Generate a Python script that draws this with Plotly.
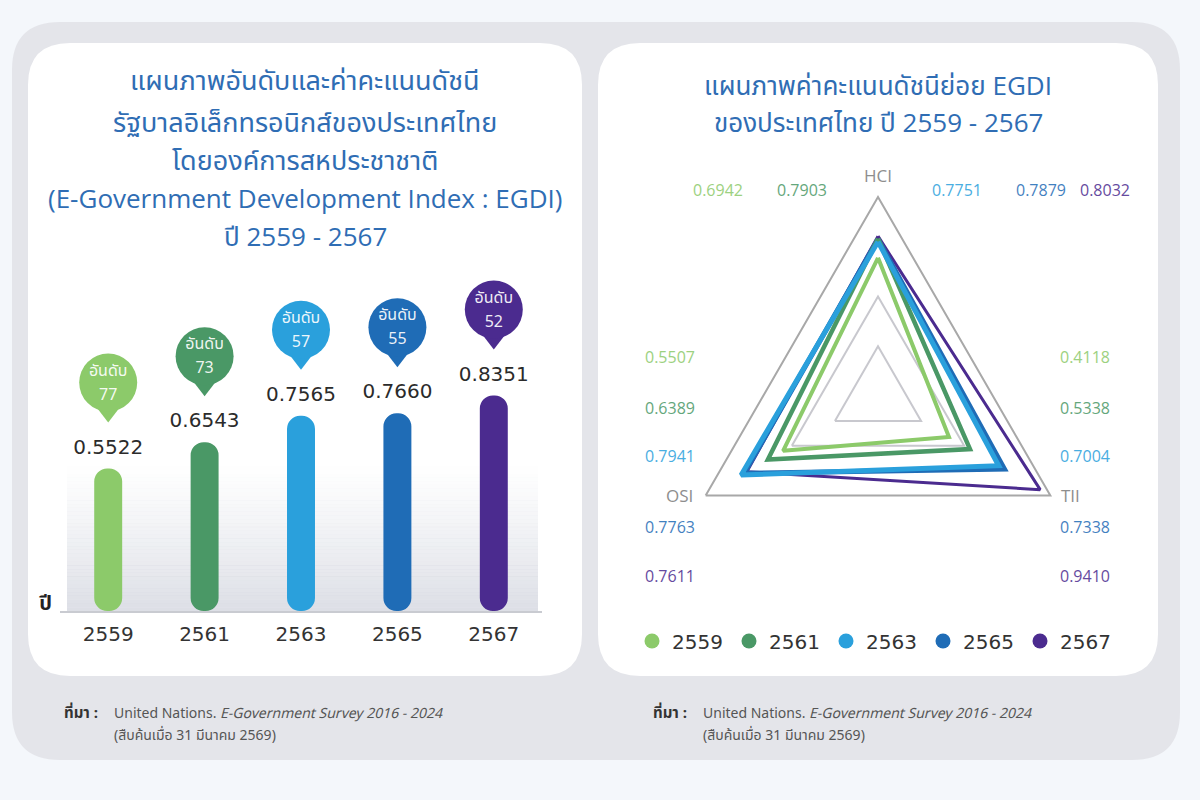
import math
import plotly.graph_objects as go

# ---------------- data ----------------
years = ["2559", "2561", "2563", "2565", "2567"]
egdi = [0.5522, 0.6543, 0.7565, 0.7660, 0.8351]
ranks = [77, 73, 57, 55, 52]

axes_names = ["HCI", "TII", "OSI"]
hci = [0.6942, 0.7903, 0.7751, 0.7879, 0.8032]
osi = [0.5507, 0.6389, 0.7941, 0.7763, 0.7611]
tii = [0.4118, 0.5338, 0.7004, 0.7338, 0.9410]

colors = ["#8cca6a", "#4a9866", "#2aa0dc", "#1f6cb6", "#4b2b8f"]

W, H = 1200, 800
THAI = "Noto Sans Thai, Loma, Garuda, Tahoma, Noto Sans, sans-serif"
LAT = "Open Sans, Noto Sans Thai, Loma, Garuda, sans-serif"


def px(x):
    return x / W


def py(y):
    return 1 - y / H


def rounded(x0, y0, x1, y1, r):
    pts = [
        f"M{px(x0 + r)},{py(y0)}",
        f"L{px(x1 - r)},{py(y0)}",
        f"Q{px(x1)},{py(y0)} {px(x1)},{py(y0 + r)}",
        f"L{px(x1)},{py(y1 - r)}",
        f"Q{px(x1)},{py(y1)} {px(x1 - r)},{py(y1)}",
        f"L{px(x0 + r)},{py(y1)}",
        f"Q{px(x0)},{py(y1)} {px(x0)},{py(y1 - r)}",
        f"L{px(x0)},{py(y0 + r)}",
        f"Q{px(x0)},{py(y0)} {px(x0 + r)},{py(y0)}",
        "Z",
    ]
    return " ".join(pts)


fig = go.Figure()

# ---------------- bar chart (left) ----------------
Y0_PX = 611
PPU = 258.0  # pixels per data unit on y
YMAX = 1.35
X0_PX, X1_PX = 60, 542
idx = list(range(len(years)))
bw = 0.29

# pill-shaped bars (a non-zero base makes plotly round both ends)
fig.add_trace(go.Bar(x=idx, y=[v - 0.0001 for v in egdi], base=[0.0001] * len(egdi), width=bw,
                     marker=dict(color=colors, cornerradius="50%", line=dict(width=0)),
                     showlegend=False, hoverinfo="skip", xaxis="x", yaxis="y"))

# value labels
fig.add_trace(go.Scatter(x=idx, y=[v + 20 / PPU for v in egdi], mode="text",
                         text=[f"{v:.4f}" for v in egdi],
                         textfont=dict(size=20, color="#2b2b2b", family="DejaVu Sans"),
                         showlegend=False, hoverinfo="skip", xaxis="x", yaxis="y"))

# rank pins
PIN_C = 86  # px above bar top
fig.add_trace(go.Scatter(x=idx, y=[v + 67 / PPU for v in egdi], mode="markers",
                         marker=dict(symbol="triangle-down", size=42, color=colors, line=dict(width=0)),
                         showlegend=False, hoverinfo="skip", xaxis="x", yaxis="y"))
fig.add_trace(go.Scatter(x=idx, y=[v + PIN_C / PPU for v in egdi], mode="markers",
                         marker=dict(symbol="circle", size=58, color=colors, line=dict(width=0)),
                         showlegend=False, hoverinfo="skip", xaxis="x", yaxis="y"))
fig.add_trace(go.Scatter(x=idx, y=[v + (PIN_C + 11) / PPU for v in egdi], mode="text",
                         text=["อันดับ"] * len(ranks), textposition="middle center",
                         textfont=dict(size=16, color="rgba(255,255,255,0.92)", family=THAI),
                         showlegend=False, hoverinfo="skip", xaxis="x", yaxis="y"))
fig.add_trace(go.Scatter(x=idx, y=[v + (PIN_C - 13) / PPU for v in egdi], mode="text",
                         text=[str(r) for r in ranks], textposition="middle center",
                         textfont=dict(size=16, color="rgba(255,255,255,0.92)", family=THAI),
                         showlegend=False, hoverinfo="skip", xaxis="x", yaxis="y"))

# ---------------- radar (right) ----------------
order = [4, 3, 0, 1, 2]
widths = [4, 4.5, 5, 5, 3]
for i in order:
    r = [hci[i], tii[i], osi[i], hci[i]]
    fig.add_trace(go.Scatterpolar(r=r, theta=axes_names + [axes_names[0]], mode="lines",
                                  line=dict(color=colors[i], width=widths[i]),
                                  showlegend=False, hoverinfo="skip"))

# legend dummies
for i, yname in enumerate(years):
    fig.add_trace(go.Scatter(x=[None], y=[None], mode="markers", name=yname,
                             marker=dict(size=15, color=colors[i]), xaxis="x", yaxis="y"))

cx, cy, R = 878, 396, 199

annotations = []
# left titles
left_title = ["แผนภาพอันดับและค่าคะแนนดัชนี", "รัฐบาลอิเล็กทรอนิกส์ของประเทศไทย",
              "โดยองค์การสหประชาชาติ", "(E-Government Development Index : EGDI)", "ปี 2559 - 2567"]
left_ty = [80, 121, 160, 198, 236]
left_fs = [27, 27, 27, 26, 26]
for t, yy, fs in zip(left_title, left_ty, left_fs):
    annotations.append(dict(text=t, x=px(305), y=py(yy), xref="paper", yref="paper",
                            xanchor="center", yanchor="middle", showarrow=False,
                            font=dict(size=fs, color="#2f6db4", family=LAT)))
right_title = ["แผนภาพค่าคะแนนดัชนีย่อย EGDI", "ของประเทศไทย ปี 2559 - 2567"]
right_ty = [85, 122]
for t, yy in zip(right_title, right_ty):
    annotations.append(dict(text=t, x=px(878), y=py(yy), xref="paper", yref="paper",
                            xanchor="center", yanchor="middle", showarrow=False,
                            font=dict(size=26, color="#2f6db4", family=LAT)))

# radar axis names
ax_ang = [90, -30, 210]
ax_off = [(0, -21), (20, 0), (-26, 0)]
for name, ang, (dx, dy) in zip(axes_names, ax_ang, ax_off):
    vx = cx + R * math.cos(math.radians(ang))
    vy = cy - R * math.sin(math.radians(ang))
    annotations.append(dict(text=name, x=px(vx + dx), y=py(vy + dy), xref="paper", yref="paper",
                            showarrow=False, xanchor="center", yanchor="middle",
                            font=dict(size=17, color="#8e8e8e", family="Open Sans")))

# radar value labels
top_x = [718, 802, 957, 1041, 1105]
side_y = [357, 408, 456, 527, 576]
for i in range(len(years)):
    annotations.append(dict(text=f"{hci[i]:.4f}", x=px(top_x[i]), y=py(190), xref="paper", yref="paper",
                            showarrow=False, xanchor="center", yanchor="middle", opacity=0.85,
                            font=dict(size=16, color=colors[i], family="Open Sans")))
    annotations.append(dict(text=f"{osi[i]:.4f}", x=px(670), y=py(side_y[i]), xref="paper", yref="paper",
                            showarrow=False, xanchor="center", yanchor="middle", opacity=0.85,
                            font=dict(size=16, color=colors[i], family="Open Sans")))
    annotations.append(dict(text=f"{tii[i]:.4f}", x=px(1085), y=py(side_y[i]), xref="paper", yref="paper",
                            showarrow=False, xanchor="center", yanchor="middle", opacity=0.85,
                            font=dict(size=16, color=colors[i], family="Open Sans")))

# year axis label
annotations.append(dict(text="<b>ปี</b>", x=px(45), y=py(604), xref="paper", yref="paper",
                        showarrow=False, xanchor="center", yanchor="middle",
                        font=dict(size=20, color="#222", family=THAI)))

# footnotes
for x0 in (62, 651):
    annotations.append(dict(text="<b>ที่มา :</b>", x=px(x0), y=py(713), xref="paper", yref="paper",
                            showarrow=False, xanchor="left", yanchor="middle",
                            font=dict(size=15, color="#333", family=THAI)))
    annotations.append(dict(text="United Nations. <i>E-Government Survey 2016 - 2024</i>",
                            x=px(x0 + 50), y=py(713), xref="paper", yref="paper",
                            showarrow=False, xanchor="left", yanchor="middle",
                            font=dict(size=14, color="#555", family=THAI)))
    annotations.append(dict(text="(สืบค้นเมื่อ 31 มีนาคม 2569)",
                            x=px(x0 + 50), y=py(735), xref="paper", yref="paper",
                            showarrow=False, xanchor="left", yanchor="middle",
                            font=dict(size=14, color="#555", family=THAI)))

shapes = [
    dict(type="path", path=rounded(12, 22, 1180, 760, 48), xref="paper", yref="paper",
         fillcolor="#e4e5ea", line=dict(width=0), layer="below"),
    dict(type="path", path=rounded(28, 43, 582, 676, 42), xref="paper", yref="paper",
         fillcolor="#ffffff", line=dict(width=0), layer="below"),
    dict(type="path", path=rounded(598, 43, 1158, 676, 42), xref="paper", yref="paper",
         fillcolor="#ffffff", line=dict(width=0), layer="below"),
]
# soft vertical gradient behind the bars (decoration)
g_top, g_bot, g_x0, g_x1, n = 458, 611, 67, 538, 40
step = (g_bot - g_top) / n
for k in range(n):
    frac = (k + 0.5) / n
    shapes.append(dict(type="rect", xref="paper", yref="paper",
                       x0=px(g_x0), x1=px(g_x1), y0=py(g_top + (k + 1) * step + 0.3), y1=py(g_top + k * step),
                       fillcolor=f"rgba(214,217,225,{0.85 * frac ** 1.3:.3f})", line=dict(width=0),
                       layer="below"))

fig.update_layout(
    width=W, height=H, margin=dict(l=0, r=0, t=0, b=0, pad=0, autoexpand=False),
    paper_bgcolor="#f4f7fb", plot_bgcolor="rgba(0,0,0,0)",
    xaxis=dict(domain=[px(X0_PX), px(X1_PX)], range=[-0.5, len(years) - 0.5], tickvals=idx, ticktext=years,
               tickfont=dict(size=20, color="#333", family="DejaVu Sans"), showgrid=False, zeroline=False,
               showline=True, linecolor="#c9cbd1", linewidth=2, ticks="", ticklabelstandoff=4,
               fixedrange=True),
    yaxis=dict(domain=[1 - Y0_PX / H, 1 - (Y0_PX - YMAX * PPU) / H], range=[0, YMAX], visible=False,
               fixedrange=True),
    polar=dict(
        domain=dict(x=[px(cx - R), px(cx + R)], y=[py(cy + R), py(cy - R)]),
        bgcolor="rgba(0,0,0,0)", gridshape="linear",
        radialaxis=dict(range=[0, 1], tickvals=[0.25, 0.5], showticklabels=False, showline=False,
                        gridcolor="#c8c8ce", gridwidth=1.5, ticks=""),
        angularaxis=dict(rotation=90, direction="clockwise", showgrid=False, linecolor="#a8a8a8",
                         linewidth=2, ticks="", showticklabels=False),
    ),
    legend=dict(orientation="h", x=px(632), y=py(641), xanchor="left", yanchor="middle",
                entrywidth=52, entrywidthmode="pixels", bgcolor="rgba(0,0,0,0)",
                font=dict(size=20, color="#333", family="DejaVu Sans")),
    showlegend=True,
    annotations=annotations, shapes=shapes,
)

fig.write_html("out.html")
